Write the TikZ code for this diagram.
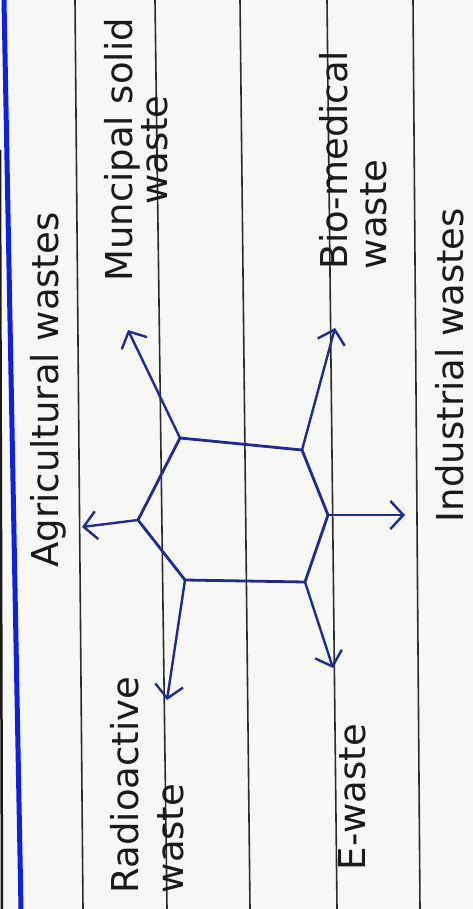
\documentclass[tikz,border=0pt]{standalone}
\usepackage{fontspec}
\setmainfont{DejaVu Sans}
\usepackage{tikz}
\usetikzlibrary{arrows.meta}
\definecolor{paper}{HTML}{F7F7F5}
\definecolor{ink}{HTML}{1F2C8F}
\definecolor{pencil}{HTML}{1A1A1A}
\definecolor{ruleline}{HTML}{2B2B2B}
\definecolor{marginblue}{HTML}{1020E0}

\begin{document}
\begin{tikzpicture}[
  x=1pt, y=-1pt,
  every node/.style={font=\fontsize{37}{27}\selectfont, text=pencil},
  wastelabel/.style={
    rotate=90,
    inner sep=0pt,
    align=center,
  },
  hexline/.style={
    draw=ink,
    line width=2.8pt,
    line join=round,
  },
  branch/.style={
    -{Straight Barb[length=13pt, width=28pt]},
    draw=ink,
    line width=2.4pt,
  },
]
  \useasboundingbox[fill=paper] (0,0) rectangle (473,909);

  % notebook page
  \foreach \top/\bot in {75/83, 155/167, 240/250, 327/337, 413/420}
    \draw[ruleline, line width=1.6pt] (\top,0) -- (\bot,909);
  \draw[marginblue, line width=5pt] (4,0) -- (21,909);
  \draw[pencil, line width=2.5pt] (0,150) -- (2,909);

  % hexagon
  \coordinate (hA) at (180,438);
  \coordinate (hB) at (302,450);
  \coordinate (hC) at (328,515);
  \coordinate (hD) at (305,582);
  \coordinate (hE) at (185,580);
  \coordinate (hF) at (138,520);
  \draw[hexline] (hA) -- (hB) -- (hC) -- (hD) -- (hE) -- (hF) -- cycle;

  % arrow ends
  \coordinate (tMuni) at (128,330);
  \coordinate (tBio) at (335,328);
  \coordinate (tIndu) at (405,515);
  \coordinate (tAgri) at (82,527);
  \coordinate (tRadio) at (167,700);
  \coordinate (tEwaste) at (333,668);

  \draw[branch] (hA) -- (tMuni);
  \draw[branch] (hB) -- (tBio);
  \draw[branch] (hC) -- (tIndu);
  \draw[branch] (hF) -- (tAgri);
  \draw[branch] (hE) -- (tRadio);
  \draw[branch] (hD) -- (tEwaste);

  \node[wastelabel] (agri) at (48,390) {Agricultural wastes};
  \node[wastelabel] (muni) at (136,150) {Muncipal solid\\waste};
  \node[wastelabel, align=left] (bio) at (353,160) {Bio-medical\\[12pt]waste};
  \node[wastelabel] (indu) at (450,365) {Industrial wastes};
  \node[wastelabel, align=left] (radio) at (147,785) {Radioactive\\[18pt]waste};
  \node[wastelabel] (ewaste) at (352,797) {E-waste};
\end{tikzpicture}
\end{document}
